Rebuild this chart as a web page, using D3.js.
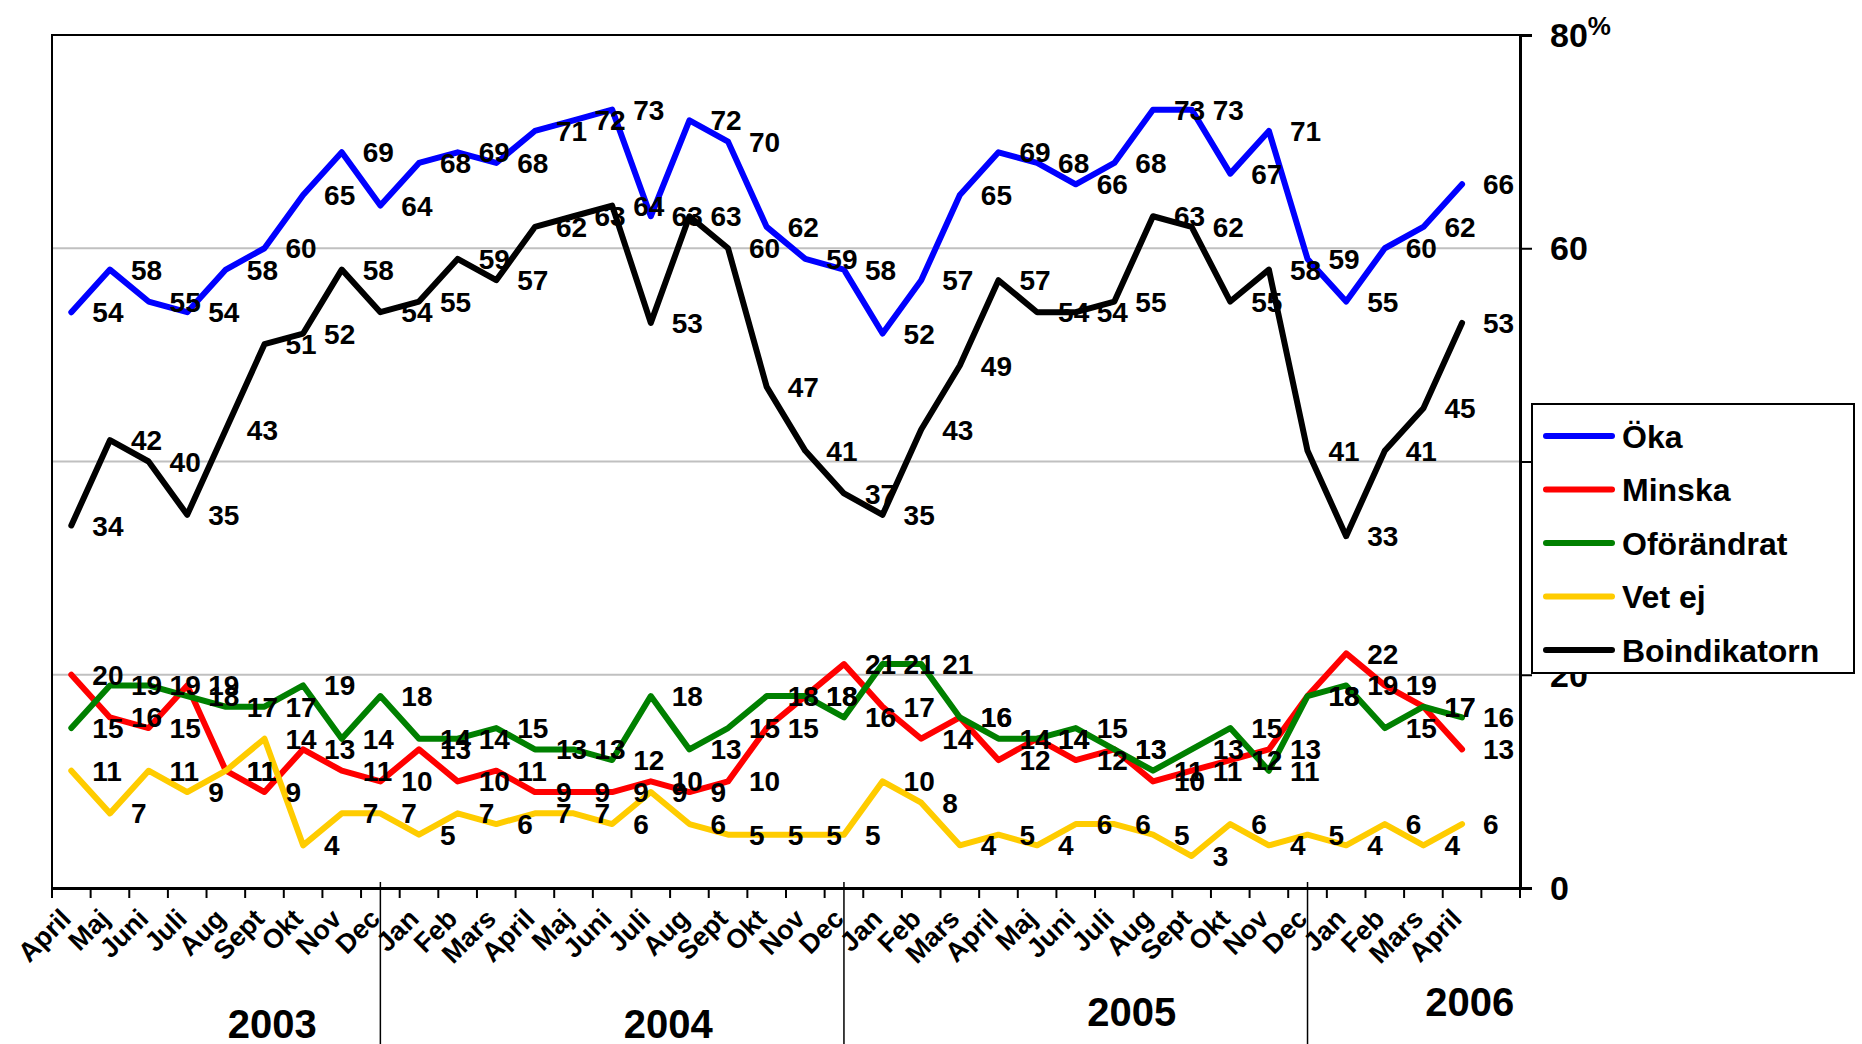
<!DOCTYPE html>
<html>
<head>
<meta charset="utf-8">
<script src="https://cdn.jsdelivr.net/npm/d3@7/dist/d3.min.js"></script>
<style>
	body { margin: 0; background: #fff; }
	text { font-family: 'Liberation Sans', Arial, sans-serif; font-weight: bold; fill: #000; }
</style>
</head>
<body>
<div id="chart"></div>
<script>
var months = [
	'April', 'Maj', 'Juni', 'Juli', 'Aug', 'Sept', 'Okt', 'Nov', 'Dec',
	'Jan', 'Feb', 'Mars', 'April', 'Maj', 'Juni', 'Juli', 'Aug', 'Sept', 'Okt', 'Nov', 'Dec',
	'Jan', 'Feb', 'Mars', 'April', 'Maj', 'Juni', 'Juli', 'Aug', 'Sept', 'Okt', 'Nov', 'Dec',
	'Jan', 'Feb', 'Mars', 'April'
];
var years = [ '2003', '2004', '2005', '2006' ];

var oka = [ 54, 58, 55, 54, 58, 60, 65, 69, 64, 68, 69, 68, 71, 72, 73, 63, 72, 70, 62, 59, 58,
	52, 57, 65, 69, 68, 66, 68, 73, 73, 67, 71, 59, 55, 60, 62, 66 ];
var minska = [ 20, 16, 15, 19, 11, 9, 13, 11, 10, 13, 10, 11, 9, 9, 9, 10, 9, 10, 15, 18, 21,
	17, 14, 16, 12, 14, 12, 13, 10, 11, 12, 13, 18, 22, 19, 17, 13 ];
var oforandrat = [ 15, 19, 19, 18, 17, 17, 19, 14, 18, 14, 14, 15, 13, 13, 12, 18, 13, 15, 18, 18, 16,
	21, 21, 16, 14, 14, 15, 13, 11, 13, 15, 11, 18, 19, 15, 17, 16 ];
var vetej = [ 11, 7, 11, 9, 11, 14, 4, 7, 7, 5, 7, 6, 7, 7, 6, 9, 6, 5, 5, 5, 5,
	10, 8, 4, 5, 4, 6, 6, 5, 3, 6, 4, 5, 4, 6, 4, 6 ];
var boindikatorn = [ 34, 42, 40, 35, 43, 51, 52, 58, 54, 55, 59, 57, 62, 63, 64, 53, 63, 60, 47, 41, 37,
	35, 43, 49, 57, 54, 54, 55, 63, 62, 55, 58, 41, 33, 41, 45, 53 ];

var seriesNames = [ 'Öka', 'Minska', 'Oförändrat', 'Vet ej', 'Boindikatorn' ];
var seriesColors = [ '#0000ff', '#ff0000', '#008000', '#ffcc00', '#000000' ];
var yTicks = [ 0, 20, 40, 60, 80 ];

var series = [ oka, minska, oforandrat, vetej, boindikatorn ].map( function ( v, i ) {
	return { name: seriesNames[i], color: seriesColors[i], values: v };
} );

var sizes = { width: 1862, height: 1044 };
var plot = { left: 52, right: 1520, top: 35, bottom: 888 };

var svg = d3.select( '#chart' ).append( 'svg' )
	.attr( 'width', sizes.width )
	.attr( 'height', sizes.height );

// one empty slot at the end, like the original
var x = d3.scaleBand()
	.domain( d3.range( months.length + 1 ) )
	.range( [ plot.left, plot.right ] )
	.paddingInner( 0 ).paddingOuter( 0 );
var cx = function ( i ) { return x( i ) + x.bandwidth() / 2; };

var y = d3.scaleLinear()
	.domain( [ 0, 80 ] )
	.range( [ plot.bottom, plot.top ] );

// gridlines
svg.append( 'g' ).selectAll( 'line' )
	.data( yTicks.filter( function ( d ) { return d > 0 && d < 80; } ) )
	.enter().append( 'line' )
	.attr( 'x1', plot.left ).attr( 'x2', plot.right )
	.attr( 'y1', function ( d ) { return y( d ); } )
	.attr( 'y2', function ( d ) { return y( d ); } )
	.style( 'stroke', '#c0c0c0' ).style( 'stroke-width', 2 );

// plot frame: left + top
svg.append( 'path' )
	.attr( 'd', 'M' + plot.left + ',' + plot.bottom + 'V' + plot.top + 'H' + plot.right )
	.style( 'fill', 'none' ).style( 'stroke', '#000' ).style( 'stroke-width', 2 );

// right value axis
var yAxis = d3.axisRight( y ).tickValues( yTicks ).tickSize( 12 ).tickFormat( '' );
var yAxisG = svg.append( 'g' )
	.attr( 'transform', 'translate(' + plot.right + ',0)' )
	.call( yAxis );
yAxisG.select( '.domain' ).style( 'stroke-width', 3 );
yAxisG.selectAll( '.tick line' ).style( 'stroke-width', 2 );

svg.append( 'g' ).selectAll( 'text' )
	.data( yTicks )
	.enter().append( 'text' )
	.attr( 'x', plot.right + 30 )
	.attr( 'y', function ( d ) { return y( d ); } )
	.attr( 'dy', '0.35em' )
	.style( 'font-size', '34px' )
	.text( function ( d ) { return d; } )
	.filter( function ( d ) { return d === 80; } )
	.append( 'tspan' )
	.attr( 'dy', '-0.45em' )
	.style( 'font-size', '26px' )
	.text( '%' );

// category axis
var xAxis = d3.axisBottom( x ).tickSize( 0 ).tickFormat( '' );
var xAxisG = svg.append( 'g' )
	.attr( 'transform', 'translate(0,' + plot.bottom + ')' )
	.call( xAxis );
xAxisG.select( '.domain' ).style( 'stroke-width', 3 );

svg.append( 'g' ).selectAll( 'line' )
	.data( d3.range( months.length + 2 ) )
	.enter().append( 'line' )
	.attr( 'x1', function ( i ) { return plot.left + i * x.bandwidth(); } )
	.attr( 'x2', function ( i ) { return plot.left + i * x.bandwidth(); } )
	.attr( 'y1', plot.bottom ).attr( 'y2', plot.bottom + 10 )
	.style( 'stroke', '#000' ).style( 'stroke-width', 2 );

svg.append( 'g' ).selectAll( 'text' )
	.data( months )
	.enter().append( 'text' )
	.attr( 'transform', function ( d, i ) {
		return 'translate(' + ( cx( i ) - 12 ) + ',' + ( plot.bottom + 19 ) + ') rotate(-45)';
	} )
	.attr( 'text-anchor', 'end' )
	.attr( 'dy', '0.7em' )
	.style( 'font-size', '27px' )
	.text( function ( d ) { return d; } );

// year separators at each December
var decIdx = [];
months.forEach( function ( m, i ) { if ( m === 'Dec' ) { decIdx.push( i ); } } );

svg.append( 'g' ).selectAll( 'line' )
	.data( decIdx )
	.enter().append( 'line' )
	.attr( 'x1', function ( i ) { return cx( i ); } )
	.attr( 'x2', function ( i ) { return cx( i ); } )
	.attr( 'y1', plot.bottom - 6 ).attr( 'y2', sizes.height )
	.style( 'stroke', '#000' ).style( 'stroke-width', 1.5 );

var bounds = [ plot.left ].concat( decIdx.map( cx ) ).concat( [ plot.right ] );
svg.append( 'g' ).selectAll( 'text' )
	.data( years )
	.enter().append( 'text' )
	.attr( 'x', function ( d, i ) { return ( bounds[i] + bounds[i + 1] ) / 2 + 56; } )
	.attr( 'y', function ( d, i ) { return i < 2 ? 1038 : 1026 - ( i - 2 ) * 10; } )
	.attr( 'text-anchor', 'middle' )
	.style( 'font-size', '40px' )
	.text( function ( d ) { return d; } );

// lines
var line = d3.line()
	.x( function ( d, i ) { return cx( i ); } )
	.y( function ( d ) { return y( d ); } );

svg.append( 'g' ).selectAll( 'path' )
	.data( series )
	.enter().append( 'path' )
	.attr( 'd', function ( s ) { return line( s.values ); } )
	.style( 'fill', 'none' )
	.style( 'stroke', function ( s ) { return s.color; } )
	.style( 'stroke-width', 6 )
	.style( 'stroke-linejoin', 'round' )
	.style( 'stroke-linecap', 'round' );

// data labels
series.forEach( function ( s ) {
	svg.append( 'g' ).selectAll( 'text' )
		.data( s.values )
		.enter().append( 'text' )
		.attr( 'x', function ( d, i ) { return cx( i ) + 21; } )
		.attr( 'y', function ( d ) { return y( d ); } )
		.attr( 'dy', '0.36em' )
		.style( 'font-size', '28px' )
		.text( function ( d ) { return d; } );
} );

// legend
var legend = svg.append( 'g' ).attr( 'transform', 'translate(1532,404)' );
legend.append( 'rect' )
	.attr( 'width', 322 ).attr( 'height', 269 )
	.style( 'fill', '#fff' ).style( 'stroke', '#000' ).style( 'stroke-width', 2 );

var item = legend.selectAll( 'g' )
	.data( series )
	.enter().append( 'g' )
	.attr( 'transform', function ( d, i ) { return 'translate(0,' + ( 32 + i * 53.5 ) + ')'; } );
item.append( 'line' )
	.attr( 'x1', 14 ).attr( 'x2', 80 )
	.style( 'stroke', function ( d ) { return d.color; } )
	.style( 'stroke-width', 6 )
	.style( 'stroke-linecap', 'round' );
item.append( 'text' )
	.attr( 'x', 90 )
	.attr( 'dy', '0.36em' )
	.style( 'font-size', '32px' )
	.text( function ( d ) { return d.name; } );
</script>
</body>
</html>
